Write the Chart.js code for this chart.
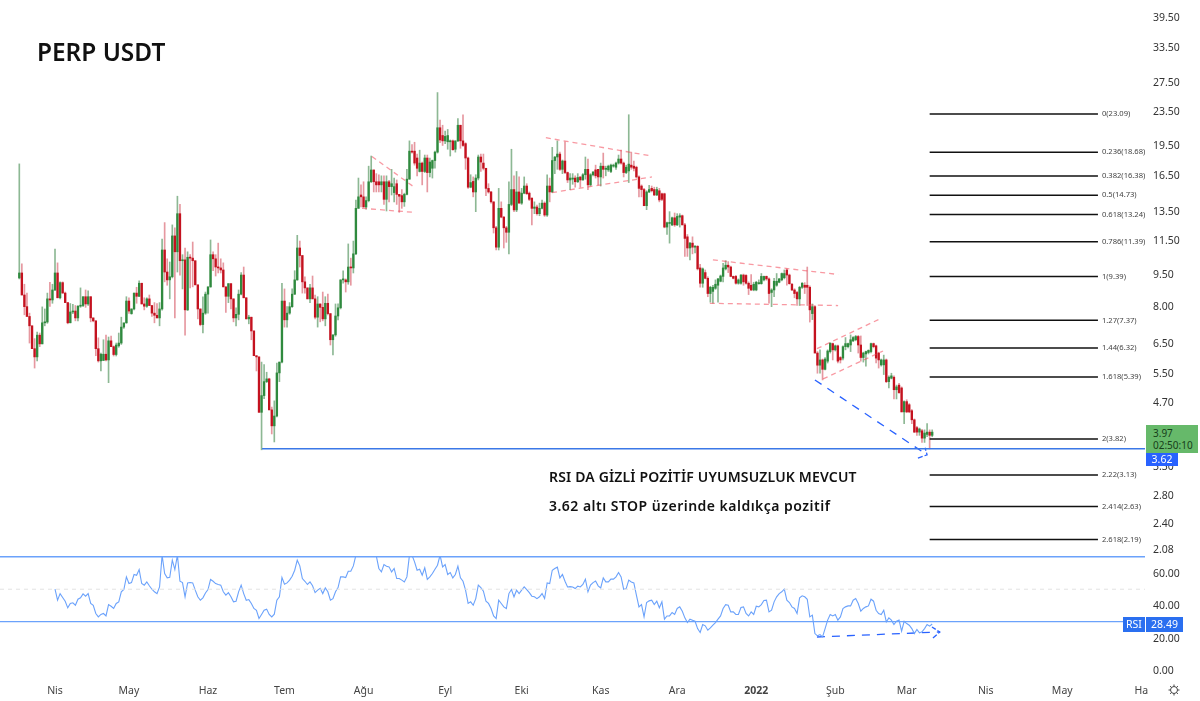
<!DOCTYPE html>
<html lang="tr">
<head>
<meta charset="utf-8">
<title>PERP USDT</title>
<script src="https://cdn.jsdelivr.net/npm/chart.js@4"></script>
<style>
  html, body { margin: 0; padding: 0; background: #fff; }
  #page { position: relative; width: 1200px; height: 701px; overflow: hidden; font-family: "Noto Sans", sans-serif; }
  #priceBox { position: absolute; left: 0; top: 0; width: 1200px; height: 556px; }
  #rsiBox { position: absolute; left: 0; top: 556px; width: 1200px; height: 145px; }
  .note { position: absolute; color: #111; white-space: nowrap; font-weight: 600; }
  .badge { position: absolute; text-align: center; font-size: 10.5px; }
</style>
</head>
<body>
<div id="page">
  <div id="priceBox"><canvas id="priceChart"></canvas></div>
  <div id="rsiBox"><canvas id="rsiChart"></canvas></div>
  <div class="note" style="left:37px;top:34px;font-size:24.4px;line-height:36px;">PERP USDT</div>
  <div class="note" style="left:549px;top:466px;font-size:14px;line-height:22px;letter-spacing:0.16px;">RSI DA GİZLİ POZİTİF UYUMSUZLUK MEVCUT</div>
  <div class="note" style="left:549px;top:495px;font-size:14px;line-height:22px;letter-spacing:0.48px;">3.62 altı STOP üzerinde kaldıkça pozitif</div>
  <div class="badge" style="left:1146px;top:425px;width:52px;height:28px;background:#66b96a;color:#17401a;font-size:10px;line-height:12px;padding:2px 0 0 7px;box-sizing:border-box;text-align:left;white-space:nowrap;">3.97<br>02:50:10</div>
  <div class="badge" style="left:1146px;top:453px;width:32px;height:13px;background:#2962ff;color:#fff;line-height:13px;">3.62</div>
  <div class="badge" style="left:1123px;top:617px;width:22px;height:15px;background:#2a6ff0;color:#fff;line-height:15px;">RSI</div>
  <div class="badge" style="left:1146px;top:617px;width:37px;height:15px;background:#2a6ff0;color:#fff;line-height:15px;">28.49</div>
</div>

<script>
const opens = [
  9.32,9.58,8.48,7.95,7.53,7.15,6.3,6.02,6.79,6.47,
  7.27,7.3,8.3,8.25,8.72,9.58,8.35,9.08,8.57,8.13,
  7.27,7.72,7.76,7.47,7.97,8.0,8.4,8.07,8.4,7.47,
  7.35,6.3,5.89,5.9,6.11,5.92,6.58,6.37,6.1,6.4,
  6.5,7.1,7.27,8.2,7.65,7.85,8.57,8.42,9.05,8.07,
  7.97,8.3,8.0,7.67,7.58,7.47,7.85,10.88,9.63,9.22,
  9.38,11.76,10.77,13.3,10.25,10.3,7.81,10.45,10.4,10.25,
  8.97,7.85,7.2,7.67,8.52,8.87,10.6,10.36,9.9,9.85,
  9.74,8.87,8.42,9.03,8.3,7.47,7.62,8.52,9.47,8.35,
  7.43,7.5,6.95,6.06,6.02,4.43,4.86,5.25,5.33,4.49,
  4.11,4.34,5.51,5.85,8.2,7.39,7.67,7.95,8.52,9.22,
  11.0,10.55,9.12,8.82,8.3,8.82,8.3,7.5,8.07,7.92,
  7.43,8.1,7.65,6.62,6.8,7.55,7.9,9.22,9.22,9.12,
  9.9,9.85,10.65,13.7,14.75,14.6,13.8,14.3,15.87,16.94,
  15.87,15.87,15.6,15.87,14.4,15.87,15.45,14.95,15.7,14.8,
  14.7,14.2,14.8,16.1,18.8,18.8,18.1,16.8,17.6,16.8,
  18.1,16.7,17.1,17.85,18.7,21.4,20.5,19.9,19.8,19.8,
  19.9,19.0,19.9,21.7,19.9,19.6,18.1,15.4,15.9,15.0,
  16.2,18.2,17.6,17.1,15.3,15.0,14.2,12.3,11.05,13.7,
  13.05,12.3,12.0,14.0,15.2,13.58,15.0,14.1,14.9,15.5,
  14.9,14.5,13.7,13.8,13.3,13.7,14.1,13.2,15.5,15.0,
  17.85,18.2,18.5,17.0,17.8,16.7,16.03,16.1,16.2,15.87,
  16.3,16.03,16.5,17.0,15.6,16.5,16.95,17.0,16.3,17.3,
  17.0,16.95,16.8,17.3,17.2,17.6,18.0,17.6,16.7,16.85,
  17.4,17.3,17.2,16.3,15.5,15.2,13.9,15.0,15.3,15.2,
  14.75,15.1,14.85,14.85,12.35,12.6,12.5,13.0,12.5,13.05,
  13.15,12.5,11.7,11.0,11.3,11.05,11.1,9.85,9.05,9.6,
  9.3,8.55,8.65,8.8,8.95,9.15,9.4,9.8,10.0,9.9,
  9.4,9.4,9.05,9.05,9.47,9.45,9.05,8.95,8.72,8.72,
  9.03,9.03,9.22,9.4,9.27,8.6,8.72,8.95,9.1,9.22,
  9.33,9.74,9.47,9.0,8.72,8.6,8.3,8.85,8.95,8.95,
  8.85,7.65,7.95,6.15,5.75,5.92,5.62,5.88,6.2,6.48,
  6.26,6.4,6.0,5.98,6.37,6.37,6.43,6.58,6.62,6.74,
  6.43,6.0,6.12,6.17,6.2,6.48,6.4,6.15,5.76,5.76,
  5.92,5.25,5.35,5.38,5.02,5.15,5.07,4.44,4.7,4.62,
  4.47,4.25,4.07,3.97,4.0,3.84,3.92,3.97,3.9
];
const highs = [
  17.52,10.07,9.0,8.57,7.67,7.15,6.66,6.91,6.87,7.94,
  7.85,8.57,9.1,9.0,10.94,10.13,9.12,9.12,8.62,8.13,
  8.09,8.05,8.0,8.0,8.82,8.4,8.72,8.68,8.4,7.47,
  7.35,6.69,6.15,6.62,6.79,6.72,6.76,6.4,6.5,6.87,
  7.5,7.25,8.4,8.35,7.85,8.57,8.85,9.17,9.05,8.35,
  8.35,8.48,8.0,8.13,8.09,8.13,11.56,12.66,10.36,10.18,
  12.5,12.3,14.65,14.0,10.6,11.0,10.77,10.6,11.37,10.25,
  8.97,7.85,8.4,8.62,8.87,11.5,10.77,10.6,11.3,10.36,
  10.13,8.87,9.03,9.03,8.3,7.9,8.72,9.6,9.9,8.35,
  7.58,7.5,6.95,6.06,6.02,5.85,5.77,5.53,5.35,4.56,
  4.72,5.82,5.85,9.05,8.77,7.95,8.13,8.77,9.7,11.8,
  11.43,10.55,9.38,8.82,9.0,9.42,8.48,8.4,8.07,8.62,
  8.4,8.52,7.65,6.8,8.07,8.07,9.22,9.7,9.27,11.25,
  10.4,11.43,14.35,16.2,15.6,15.87,14.6,17.3,18.3,16.94,
  16.6,16.5,16.4,16.4,16.4,16.0,17.0,16.2,16.03,14.8,
  15.2,14.9,17.0,19.9,19.5,19.75,18.5,18.9,17.7,18.4,
  18.4,18.1,17.9,18.8,26.0,22.34,21.7,21.0,21.2,20.0,
  20.0,19.9,22.5,21.7,23.0,19.7,18.2,16.5,16.3,16.5,
  18.4,18.5,18.5,17.1,15.7,15.05,14.2,12.4,15.3,14.2,
  13.1,12.4,15.87,19.0,16.4,16.8,16.3,15.3,16.3,15.7,
  15.0,14.5,14.2,13.95,14.1,14.35,14.2,16.5,16.2,19.2,
  18.25,19.9,18.7,17.9,19.8,16.75,16.6,16.6,16.4,16.6,
  16.3,16.6,18.2,18.0,16.6,16.8,17.4,17.0,17.6,18.6,
  17.3,17.4,17.5,17.5,17.7,18.4,18.9,17.7,17.4,23.0,
  18.7,17.8,17.3,16.4,15.6,15.3,15.1,15.55,15.5,15.4,
  15.4,15.3,14.9,14.9,12.7,13.45,13.05,13.35,13.3,13.3,
  13.2,12.6,11.85,11.35,11.7,11.15,11.15,10.05,9.85,9.74,
  9.38,8.9,8.95,9.22,9.3,9.47,10.1,10.25,10.2,9.95,
  9.42,9.45,9.27,9.5,9.52,9.5,9.12,9.5,9.1,9.15,
  9.22,9.55,9.42,9.42,9.32,8.78,9.3,9.55,9.3,9.58,
  9.74,9.8,9.52,9.05,8.78,8.65,8.9,9.08,9.08,9.9,
  8.92,8.07,8.0,6.2,6.26,5.95,6.0,6.26,6.5,6.5,
  6.43,6.43,6.03,6.4,6.7,6.5,6.8,6.74,6.78,6.78,
  6.76,6.18,6.22,6.26,6.5,6.5,6.43,6.18,5.95,6.08,
  5.95,5.42,5.5,5.42,5.15,5.2,5.1,4.72,4.75,4.65,
  4.5,4.27,4.1,4.06,4.03,4.02,4.16,4.02,4.02
];
const lows = [
  9.27,8.48,7.6,7.53,6.5,6.3,5.66,5.89,6.37,6.47,
  7.15,7.25,7.96,8.1,8.68,8.35,8.3,8.57,8.13,7.23,
  7.27,7.65,7.35,7.35,7.92,7.95,7.92,8.0,7.31,7.31,
  6.06,5.85,5.57,5.92,5.89,5.22,6.37,6.05,6.05,6.35,
  6.45,7.05,7.25,7.66,7.62,7.81,8.1,8.4,8.07,7.81,
  7.92,8.0,7.53,7.27,7.47,7.15,7.8,9.12,8.95,8.3,
  9.32,7.47,9.63,9.47,8.77,6.79,7.78,8.82,8.87,8.97,
  7.43,7.15,6.87,7.62,7.67,8.85,9.7,9.42,9.58,9.58,
  8.87,7.7,8.13,7.85,7.31,7.15,7.39,8.48,8.35,7.43,
  7.23,6.62,6.06,5.57,4.43,3.6,4.78,5.22,4.49,3.93,
  3.76,4.32,5.25,5.82,7.1,7.1,7.62,7.92,8.5,9.2,
  9.9,8.57,8.57,8.3,8.13,8.3,7.43,7.1,7.31,7.35,
  7.15,7.6,6.43,6.09,6.75,7.39,7.85,9.05,8.62,9.0,
  8.95,9.58,10.6,13.7,13.8,13.8,13.64,14.2,15.8,15.0,
  15.0,15.0,15.0,14.0,13.5,14.2,14.75,14.2,14.0,13.4,
  13.7,13.85,14.75,16.1,18.6,17.4,16.4,16.75,15.6,16.7,
  15.0,16.3,16.2,17.1,18.6,19.7,19.4,19.6,19.0,18.3,
  18.9,18.7,19.8,19.1,19.3,17.0,15.3,15.35,14.6,13.45,
  16.03,16.8,16.94,14.7,14.9,14.1,11.95,10.88,10.88,13.0,
  11.0,11.35,10.65,13.9,13.45,13.45,14.1,14.0,14.85,14.8,
  14.3,12.5,13.3,13.2,13.15,13.65,13.1,13.1,14.2,14.95,
  16.6,17.0,16.9,16.6,16.6,15.8,15.2,15.65,15.4,15.8,
  15.4,16.0,16.1,15.2,15.5,16.4,16.2,15.6,15.5,16.2,
  16.4,16.8,16.7,17.2,17.0,17.5,17.5,16.3,16.6,15.8,
  17.0,16.85,16.2,14.6,14.6,13.9,13.6,14.95,15.0,14.7,
  14.7,14.2,14.3,12.3,11.85,11.3,12.45,12.4,12.45,12.35,
  12.5,10.5,10.5,10.3,10.65,10.7,9.74,8.85,8.85,9.27,
  8.4,8.15,8.1,8.75,8.15,9.12,9.12,9.74,9.6,9.38,
  9.27,9.0,9.0,9.0,8.95,9.0,8.5,8.68,8.68,8.68,
  9.0,9.0,9.17,9.2,8.1,7.95,8.4,8.9,9.07,9.17,
  9.27,8.95,9.0,8.68,8.35,8.0,8.0,8.8,8.55,8.0,
  7.3,7.4,6.15,5.5,5.5,5.3,5.6,5.82,6.15,5.92,
  6.22,5.82,5.82,5.92,6.26,6.33,6.2,6.55,6.58,6.15,
  5.88,5.85,5.72,6.12,6.15,6.33,5.82,5.66,5.72,5.46,
  5.22,5.07,5.33,4.77,4.77,4.92,4.44,4.16,4.42,4.42,
  4.16,3.96,3.9,3.9,3.75,3.75,3.87,3.62,3.87
];
const closes = [
  9.58,8.48,7.95,7.53,7.15,6.3,6.02,6.79,6.47,7.27,
  7.3,8.3,8.25,8.72,9.58,8.35,9.08,8.57,8.13,7.27,
  7.72,7.76,7.47,7.97,8.0,8.4,8.07,8.4,7.47,7.35,
  6.3,5.89,6.11,6.11,5.92,6.58,6.37,6.1,6.43,6.5,
  7.1,7.27,8.2,7.76,7.85,8.57,8.42,9.05,8.07,7.97,
  8.3,8.0,7.67,7.58,7.47,7.85,10.88,9.63,9.22,9.38,
  11.76,10.77,13.3,10.25,10.3,7.81,10.45,10.4,10.25,8.97,
  7.85,7.2,7.67,8.52,8.87,10.6,10.36,9.9,9.85,9.74,
  8.87,8.42,9.03,8.3,7.47,7.62,8.52,9.47,8.35,7.43,
  7.5,6.95,6.06,6.02,4.43,4.86,5.25,5.33,4.49,4.11,
  4.34,5.51,5.85,8.2,7.39,7.67,7.95,8.52,9.22,11.0,
  10.55,9.12,8.82,8.3,8.82,8.3,7.5,8.07,7.92,7.43,
  8.1,7.65,6.62,6.8,7.55,7.9,9.22,9.22,9.12,9.9,
  9.85,10.65,13.7,14.6,14.6,13.8,14.3,15.87,16.94,15.87,
  15.6,15.6,15.87,14.4,15.87,15.45,15.7,15.45,14.8,14.65,
  14.2,14.8,16.1,18.8,18.7,17.6,17.1,17.6,16.8,18.1,
  16.7,17.7,17.85,18.7,21.4,20.0,19.9,20.4,20.5,19.9,
  18.95,19.9,21.7,19.9,19.4,18.1,15.4,15.8,15.0,16.2,
  18.2,17.7,17.1,15.3,15.0,14.2,12.3,11.05,13.7,13.05,
  12.3,12.0,14.0,15.2,13.58,15.0,14.1,14.9,15.5,14.85,
  14.4,13.7,13.8,13.3,13.7,14.1,13.2,15.5,15.0,17.85,
  18.2,18.5,17.0,17.8,16.7,16.03,16.2,16.2,15.87,16.25,
  16.03,16.5,17.0,15.6,16.5,16.75,16.4,16.3,17.3,17.0,
  17.1,17.3,17.4,17.4,17.6,18.0,17.6,16.7,17.2,17.5,
  17.2,17.1,16.3,15.3,15.2,13.9,15.0,15.2,15.1,14.75,
  15.2,14.35,14.4,12.35,12.65,12.65,13.0,12.5,13.1,13.15,
  12.5,11.6,11.0,11.3,11.05,11.1,9.8,9.05,9.8,9.3,
  8.55,8.85,8.85,9.0,9.27,9.42,9.85,10.0,9.9,9.4,
  9.3,9.05,9.22,9.47,9.12,9.05,8.8,8.72,9.0,9.1,
  9.08,9.4,9.4,9.27,8.55,8.72,9.15,9.15,9.27,9.55,
  9.55,9.47,9.03,8.72,8.55,8.3,8.85,9.05,8.85,8.85,
  7.81,7.95,6.15,5.75,5.92,5.62,5.95,6.22,6.5,6.26,
  6.4,5.88,5.92,6.37,6.48,6.48,6.62,6.7,6.74,6.43,
  6.0,6.15,6.2,6.24,6.48,6.37,5.98,5.92,5.92,5.92,
  5.25,5.38,5.42,5.02,5.1,4.94,4.44,4.7,4.44,4.44,
  4.25,3.97,3.97,4.04,3.84,3.95,3.97,3.9,3.97
];

const rsiStart = 14;
const rsiValues = [
  50,43.2,47.3,44.9,42.6,38.5,41.2,41.6,40.1,43.8,44.7,47.1,45.7,47.3,41.2,40.1,35,32.9,34.4,35,
  33.5,40.5,39.5,38.1,41.2,42.2,48.4,49.8,57.6,53.5,54.1,59.1,58.6,62.1,53.5,52.5,54.5,52.1,50,48.4,
  47.3,51.4,71,59.7,57,57.4,67.9,62.1,71,54.9,54.1,45.3,53.9,54.1,53.9,49.4,45.3,43.2,44.7,47.7,
  49.8,56,54.9,53.5,52.9,52.5,48.4,46.3,47.9,45.3,42.2,42.6,48.4,52.5,47.3,43.2,43.6,41.2,38.1,37,
  31.9,34.4,37,37.7,34.4,32.9,34.6,43.2,45.3,57.2,53.1,53.9,55.6,58,61.7,67.9,64.4,56.6,54.9,52.9,
  54.5,52.1,47.9,49.4,50.6,47.3,50.8,48.4,43.2,44.2,48.4,51,57.6,57.6,57.2,61.1,61.1,64.4,71,
  73,75,76,75,73,72,71,70.5,62.8,60.7,65.2,64.2,63.8,60.7,62.8,56.6,
  56.6,55.6,54.5,57.6,71,71,66.9,61.7,62.3,58.6,63.2,56,57.6,59.7,62.3,64.8,71,63.8,65.2,59.1,
  60.3,57,59.1,64.2,57,54.9,49.4,41.2,42.2,40.1,44.2,52.5,51,48.8,42.6,41.2,38.1,33.5,31.9,43.2,
  41.2,39.1,38.1,47.3,49.8,45.3,49.4,47.3,49.4,51.4,49.8,47.9,45.7,45.3,44.2,45.3,47.3,44.2,53.9,53.5,
  61.7,62.8,63.6,57,59.1,54.9,51.4,51.6,51.4,50.4,51.9,51.4,52.9,56.2,48.4,52.5,54.1,55.1,52.1,50.8,
  57,54.5,54.5,56.2,56.2,57.6,60.3,57.6,50,50.4,55.6,54.5,53.9,46.3,39.1,40.5,32.9,41.8,42.8,43.2,
  40.5,42.6,38.5,42.2,31.5,33.5,33.5,35.6,34.4,38.1,39.1,36.4,32.3,29.4,31.5,30.9,30.2,25.7,23.3,28.2,
  27.4,24.7,26.1,27.8,29.4,31.5,33.5,38.1,40.5,40.1,36,36,34.4,34.4,38.7,39.1,35,33.5,36,34.4,
  39.5,39.1,40.5,43,43.2,36,37,42.2,45.3,47.3,48.4,50,43.2,41.8,39.1,38.1,35,44.7,
  45.9,45.3,43.8,32.9,34,22.6,21.2,22,20.6,25.7,30.9,34.4,33.5,34.4,30.9,32.9,38.1,39.1,39.7,
  39.7,43.2,44.2,41.2,36.4,38.1,39.1,39.7,43.8,42.6,37,35,34.4,37,29.8,32.3,30.9,28.2,30.2,30.9,
  24.1,30.2,28.8,27.8,25.7,22.6,25.1,23,23.7,25.7,28.2,27.2,28.49
];

const priceTicks = [39.5,33.5,27.5,23.5,19.5,16.5,13.5,11.5,9.5,8,6.5,5.5,4.7,3.3,2.8,2.4,2.08];
const rsiTicks = [60,40,20,0];
const monthTicks = [14,43,74,104,135,167,197,228,258,289,320,348,379,409,440];
const monthLabels = ['Nis','May','Haz','Tem','Ağu','Eyl','Eki','Kas','Ara','2022','Şub','Mar','Nis','May','Ha'];

const fibLevels = ['0','0.236','0.382','0.5','0.618','0.786','1','1.27','1.44','1.618','2','2.22','2.414','2.618'];
const fibPrices = [23.09,18.68,16.38,14.73,13.24,11.39,9.39,7.37,6.32,5.39,3.82,3.13,2.63,2.19];
const stopPrice = 3.62;

// hand drawn lines from the picture, [bar, price]
const pinkLines = [
  [[138.3,18.25],[155.2,15.35]],
  [[134.4,13.7],[154.8,13.4]],
  [[206.5,20.25],[248.1,18.3]],
  [[208.9,14.95],[248.1,16.3]],
  [[272,10.3],[321.1,9.5]],
  [[270.8,8.1],[321.1,8.0]],
  [[312.8,6.3],[338.3,7.47]],
  [[315.2,5.33],[338.7,6.22]]
];
const blueArrow = [[312,5.3],[356,3.5]];
const blueArrowHead = [[352.4,3.44],[356,3.5],[355.2,3.64]];
const rsiArrow = [[312.8,20.5],[361,23.6]];
const rsiArrowHead = [[358.3,19.9],[361,23.6],[357.9,26.7]];

// x range of the plot, the panel runs past the last bar
const xMin = -7.57;
const xMax = 441.45;
const axisWidth = 55;

const GREEN = '#2f8a3e';
const RED = '#c4121f';
const GREEN_WICK = 'rgba(47,125,60,0.55)';
const RED_WICK = 'rgba(205,50,65,0.5)';
const LINE_BLUE = '#6ba2fb';

function toLine(points, color, width, dash) {
  return {
    type: 'line',
    data: points.map(p => ({ x: p[0], y: p[1] })),
    borderColor: color,
    borderWidth: width,
    borderDash: dash || [],
    pointRadius: 0,
    tension: 0,
    order: 0
  };
}

// drop the margins the scales ask for so the plot fills its box
function fitAxis(scale) {
  scale.paddingTop = 0;
  scale.paddingBottom = 0;
  scale.paddingLeft = 0;
  scale.paddingRight = 0;
}

const barIdx = closes.map((c, i) => i);
const isUp = barIdx.map(i => closes[i] >= opens[i]);

const priceDatasets = [
  {
    type: 'bar',
    data: barIdx.map(i => ({ x: i, y: [lows[i], highs[i]] })),
    backgroundColor: isUp.map(u => u ? GREEN_WICK : RED_WICK),
    barThickness: 1,
    grouped: false,
    order: 3
  },
  {
    type: 'bar',
    data: barIdx.map(i => ({ x: i, y: [Math.min(opens[i], closes[i]), Math.max(opens[i], closes[i])] })),
    backgroundColor: isUp.map(u => u ? GREEN : RED),
    barThickness: 1.7,
    grouped: false,
    minBarLength: 1,
    order: 2
  }
];
fibPrices.forEach(p => priceDatasets.push(toLine([[357, p], [423, p]], '#111', 1.5)));
priceDatasets.push(toLine([[95.2, stopPrice], [xMax, stopPrice]], '#3b78e7', 1.5));
pinkLines.forEach(l => priceDatasets.push(toLine(l, 'rgba(242,70,85,0.55)', 1.3, [5, 4])));
priceDatasets.push(toLine(blueArrow, '#2962ff', 1.3, [8, 7]));
priceDatasets.push(toLine(blueArrowHead, '#2962ff', 1.3, [5, 2]));

// fib level names next to the end of each line
const fibLabelPlugin = {
  id: 'fibLabels',
  afterDatasetsDraw(chart) {
    const ctx = chart.ctx;
    ctx.save();
    ctx.font = '7.6px "Noto Sans", sans-serif';
    ctx.fillStyle = '#444';
    ctx.textBaseline = 'middle';
    fibPrices.forEach((p, i) => {
      ctx.fillText(fibLevels[i] + '(' + p.toFixed(2) + ')', chart.scales.x.getPixelForValue(423) + 4, chart.scales.y.getPixelForValue(p));
    });
    ctx.restore();
  }
};

new Chart(document.getElementById('priceChart'), {
  data: { datasets: priceDatasets },
  plugins: [fibLabelPlugin],
  options: {
    responsive: true,
    maintainAspectRatio: false,
    animation: false,
    layout: { autoPadding: false },
    plugins: { legend: { display: false }, tooltip: { enabled: false } },
    scales: {
      x: { type: 'linear', display: false, min: xMin, max: xMax, offset: false },
      y: {
        type: 'logarithmic',
        position: 'right',
        min: 2.0,
        max: 43.4,
        grid: { display: false, drawTicks: false },
        border: { display: false },
        afterBuildTicks: scale => { scale.ticks = priceTicks.map(v => ({ value: v })); },
        afterFit: scale => { scale.width = axisWidth; fitAxis(scale); },
        ticks: {
          autoSkip: false,
          padding: 8,
          labelOffset: 1,
          color: '#333',
          font: { family: '"Noto Sans", sans-serif', size: 10.5 },
          callback: v => Number(v).toFixed(2)
        }
      }
    }
  }
});

const rsiDatasets = [
  toLine([[xMin, 70], [xMax, 70]], LINE_BLUE, 1.5),
  toLine([[xMin, 30], [xMax, 30]], LINE_BLUE, 1.2),
  toLine([[xMin, 50], [xMax, 50]], '#e2e2e2', 1, [4, 4]),
  toLine(rsiValues.map((v, i) => [rsiStart + i, v]), LINE_BLUE, 1.1),
  toLine(rsiArrow, '#2962ff', 1.3, [8, 7]),
  toLine(rsiArrowHead, '#2962ff', 1.3, [5, 2])
];

// the small settings icon in the bottom right corner
const gearPlugin = {
  id: 'gear',
  afterDraw(chart) {
    const ctx = chart.ctx;
    const cx = 1174, cy = 134;
    ctx.save();
    ctx.strokeStyle = '#444';
    ctx.lineWidth = 1;
    ctx.beginPath();
    ctx.arc(cx, cy, 3.5, 0, Math.PI * 2);
    for (let k = 0; k < 8; k++) {
      const a = k * Math.PI / 4;
      ctx.moveTo(cx + Math.cos(a) * 3.5, cy + Math.sin(a) * 3.5);
      ctx.lineTo(cx + Math.cos(a) * 5.5, cy + Math.sin(a) * 5.5);
    }
    ctx.stroke();
    ctx.restore();
  }
};

new Chart(document.getElementById('rsiChart'), {
  data: { datasets: rsiDatasets },
  plugins: [gearPlugin],
  options: {
    responsive: true,
    maintainAspectRatio: false,
    animation: false,
    layout: { autoPadding: false },
    plugins: { legend: { display: false }, tooltip: { enabled: false } },
    scales: {
      x: {
        type: 'linear',
        min: xMin,
        max: xMax,
        grid: { display: false, drawTicks: false },
        border: { display: false },
        afterBuildTicks: scale => { scale.ticks = monthTicks.map(v => ({ value: v })); },
        afterFit: scale => { scale.height = 21; fitAxis(scale); },
        ticks: {
          autoSkip: false,
          maxRotation: 0,
          padding: 5,
          color: '#444',
          font: ctx => ({
            family: '"Noto Sans", sans-serif',
            size: 10.5,
            weight: ctx.index === 9 ? 'bold' : 'normal'
          }),
          callback: (v, i) => monthLabels[i]
        }
      },
      y: {
        type: 'linear',
        position: 'right',
        min: -6.05,
        max: 70.5,
        grid: { display: false, drawTicks: false },
        border: { display: false },
        afterBuildTicks: scale => { scale.ticks = rsiTicks.map(v => ({ value: v })); },
        afterFit: scale => { scale.width = axisWidth; fitAxis(scale); },
        ticks: {
          autoSkip: false,
          padding: 8,
          labelOffset: 1,
          color: '#333',
          font: { family: '"Noto Sans", sans-serif', size: 10.5 },
          callback: v => Number(v).toFixed(2)
        }
      }
    }
  }
});
</script>
</body>
</html>
